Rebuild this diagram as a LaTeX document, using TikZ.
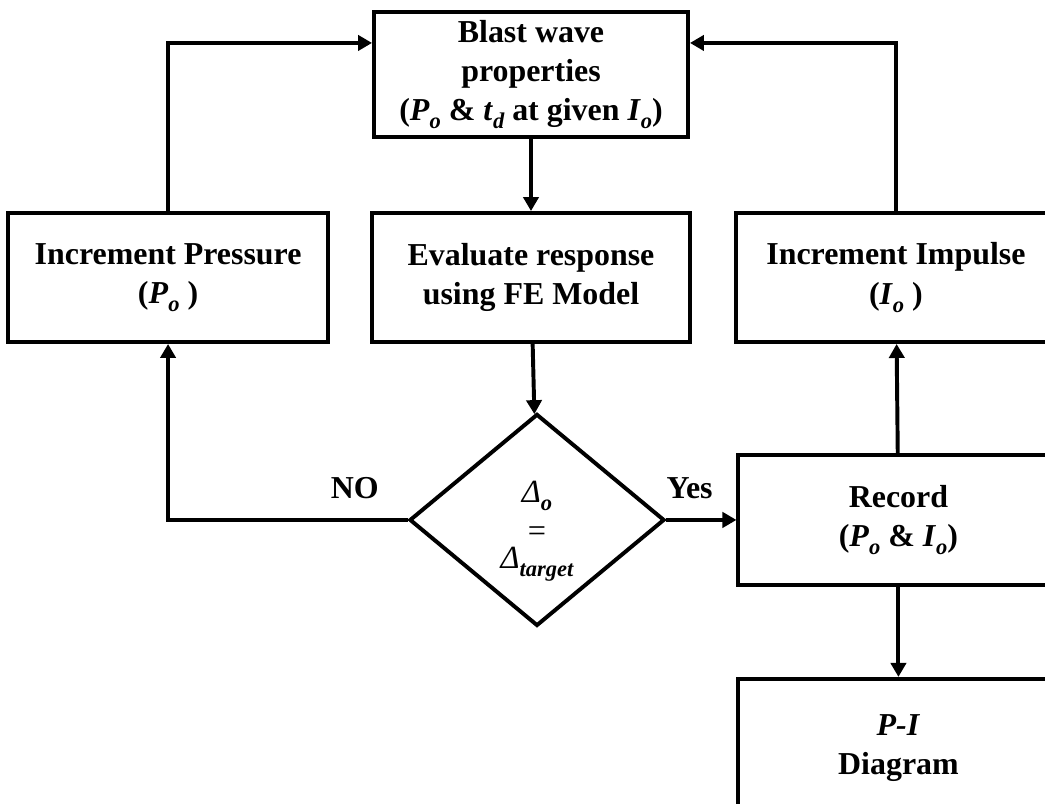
\documentclass[tikz,border=0pt]{standalone}
\usepackage{fontspec}
\setmainfont{Liberation Serif}
\usetikzlibrary{positioning, shapes.geometric, arrows.meta}
\newcommand{\subi}[1]{\raisebox{-0.55ex}{\fontsize{16}{16}\selectfont\bfseries\itshape #1}}
\tikzset{
    mybox/.style={
        draw,
        line width=2.8pt,
        align=center,
        inner sep=2mm,
        minimum width=8cm,
        minimum height=3.225cm,
        font=\fontsize{22.7}{28}\selectfont\bfseries
    },
    mydiamond/.style={
        diamond,
        draw,
        line width=2.8pt,
        align=center,
        inner sep=0pt,
        minimum width=6.375cm,
        minimum height=5.3cm,
        font=\fontsize{23}{25}\selectfont\bfseries
    },
    mylabel/.style={
        font=\fontsize{22.7}{28}\selectfont\bfseries
    }
}

\begin{document}
\begin{tikzpicture}[node distance = 1.8cm and 1.0cm,
    >={Triangle[length=3.5mm, width=3.8mm]}, line width=2.8pt]
\useasboundingbox (0,0) rectangle (26.125,-20.1);
\clip (0,0) rectangle (26.125,-20.1);
\node[mybox, minimum width=7.85cm, minimum height=3.125cm] (BW) at (13.275,-1.8625)
    {Blast wave\\properties\\(\textit{P}\subi{o} \& \textit{t}\subi{d} at given \textit{I}\subi{o})};
\node[mybox, minimum width=7.95cm, below=of BW]    (EV) {Evaluate response\\using FE Model};
\node[mybox, left=of EV]                          (IP) {Increment Pressure\\(\textit{P}\subi{o} )};
\node[mybox, right=1.05cm of EV]                  (II) {Increment Impulse\\(\textit{I}\subi{o} )};
\node[mydiamond, below=1.7cm of EV, xshift=1.5mm] (D)
    {\rule{0pt}{1.1cm}{\mdseries\itshape Δ}\subi{o}\\[1mm]{\mdseries =}\\[-2mm]{\mdseries\itshape Δ}\subi{target}};
\node[mybox, minimum height=3.25cm, right=1.75cm of D] (R) {Record\\(\textit{P}\subi{o} \& \textit{I}\subi{o})};
\node[mybox, minimum height=3.45cm, below=2.25cm of R] (PI) {\textit{P-I}\\Diagram};

\draw[->] (BW) -- (EV);
\draw[->] (EV) -- (D);
\draw[->] (IP) |- ([yshift=-8.25mm]BW.north west);
\draw[->] (II) |- ([yshift=-8.25mm]BW.north east);
\draw[->] (D.west) -| node[mylabel, pos=0.11, above=3.5mm] {NO} (IP);
\draw[->] (D.east) -- node[mylabel, pos=0.33, above=3.5mm] {Yes} (R);
\draw[->] (R) -- (II);
\draw[->] (R) -- (PI);
\end{tikzpicture}
\end{document}
